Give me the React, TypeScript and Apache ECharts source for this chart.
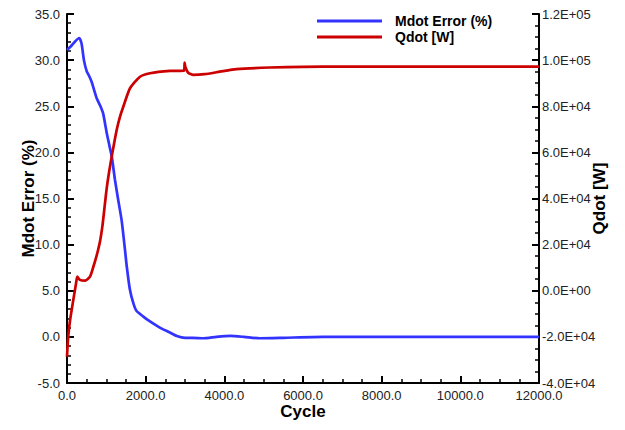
import React, { useEffect, useRef } from "react";
import * as echarts from "echarts";

const cycleTicks = [0, 2000, 4000, 6000, 8000, 10000, 12000];

const mdotCycles = [0, 100, 200, 310, 370, 430, 500, 560, 630, 700, 760, 850, 920, 1010, 1080, 1140, 1220, 1300, 1390, 1475, 1520, 1600, 1690, 1770, 1940, 2100, 2360, 2600, 2790, 3000, 3200, 3465, 3800, 4150, 4500, 4900, 5500, 6500, 8000, 10000, 12000];
const mdotError = [31.1, 31.5, 32.0, 32.4, 31.8, 30.0, 28.8, 28.3, 27.6, 26.6, 25.8, 25.0, 24.2, 22.1, 20.7, 19.5, 17.0, 14.9, 12.6, 9.4, 7.6, 5.1, 3.6, 2.8, 2.2, 1.7, 1.0, 0.5, 0.1, -0.1, -0.1, -0.15, 0.0, 0.1, 0.0, -0.15, -0.1, 0.0, 0.0, 0.0, 0.0];

const qdotCycles = [0, 30, 80, 160, 230, 262, 330, 460, 585, 670, 750, 840, 900, 960, 1010, 1070, 1136, 1263, 1348, 1431, 1602, 1856, 2110, 2619, 2975, 2990, 3010, 3080, 3210, 3500, 3890, 4310, 5160, 6000, 7000, 8000, 10000, 12000];
const qdotW = [-28600, -20000, -12600, -4000, 3200, 6100, 4700, 4400, 6100, 10400, 15000, 21500, 28000, 37000, 44500, 51500, 58100, 69700, 75500, 79800, 87800, 92800, 94300, 95300, 95400, 98900, 97000, 94500, 93600, 93900, 95000, 96100, 96800, 97100, 97200, 97200, 97200, 97200];

const seriesNames = ["Mdot Error (%)", "Qdot [W]"];

function sci(v: number): string {
  if (v === 0) return "0.0E+00";
  const e = Math.floor(Math.log10(Math.abs(v)) + 1e-9);
  const m = v / Math.pow(10, e);
  const ae = Math.abs(e);
  return m.toFixed(1) + "E" + (e < 0 ? "-" : "+") + (ae < 10 ? "0" : "") + ae;
}

export default function App() {
  const ref = useRef<HTMLDivElement>(null);
  useEffect(() => {
    if (!ref.current) return;
    const chart = echarts.init(ref.current, null, { renderer: "svg" });
    const font = "'Liberation Sans', Arial, sans-serif";
    const axisLine = { show: true, onZero: false, lineStyle: { color: "#000", width: 2 } };
    const axisTick = { show: true, inside: true, length: 7, lineStyle: { color: "#000", width: 2 } };
    const minorTickBase = { show: true, length: 4, lineStyle: { color: "#000", width: 1.5 } };
    const labelStyle = { color: "#222", fontSize: 13, fontFamily: font };
    const nameStyle = { color: "#000", fontSize: 17, fontWeight: "bold" as const, fontFamily: font };
    chart.setOption({
      animation: false,
      backgroundColor: "#fff",
      grid: { left: 67, right: 86, top: 14, bottom: 47 },
      legend: {
        orient: "vertical",
        left: 312,
        top: 9,
        itemWidth: 65,
        itemHeight: 3,
        itemGap: 2,
        icon: "rect",
        textStyle: { color: "#000", fontSize: 14, fontWeight: "bold", fontFamily: font, padding: [0, 0, 0, 8] },
        data: seriesNames,
      },
      xAxis: {
        type: "value",
        min: cycleTicks[0],
        max: cycleTicks[cycleTicks.length - 1],
        interval: 2000,
        name: "Cycle",
        nameLocation: "middle",
        nameMoveOverlap: false,
        nameGap: 20,
        nameTextStyle: nameStyle,
        axisLine,
        axisTick,
        minorTick: { ...minorTickBase, splitNumber: 4 },
        splitLine: { show: false },
        axisLabel: { ...labelStyle, margin: 6, formatter: (v: number) => v.toFixed(1) },
      },
      yAxis: [
        {
          type: "value",
          min: -5,
          max: 35,
          interval: 5,
          position: "left",
          name: "Mdot Error (%)",
          nameLocation: "middle",
          nameMoveOverlap: false,
          nameGap: 30,
          nameTextStyle: nameStyle,
          axisLine,
          axisTick,
          minorTick: { ...minorTickBase, splitNumber: 5 },
          splitLine: { show: false },
          axisLabel: { ...labelStyle, margin: 7, formatter: (v: number) => v.toFixed(1) },
        },
        {
          type: "value",
          min: -40000,
          max: 120000,
          interval: 20000,
          position: "right",
          name: "Qdot [W]",
          nameLocation: "middle",
          nameMoveOverlap: false,
          nameGap: 52,
          nameTextStyle: nameStyle,
          axisLine,
          axisTick,
          minorTick: { ...minorTickBase, splitNumber: 4 },
          splitLine: { show: false },
          axisLabel: { ...labelStyle, margin: 3, formatter: (v: number) => sci(v) },
        },
      ],
      series: [
        {
          name: seriesNames[0],
          type: "line",
          yAxisIndex: 0,
          showSymbol: false,
          smooth: 0.2,
          lineStyle: { color: "#3333ff", width: 2.7 },
          itemStyle: { color: "#3333ff" },
          data: mdotCycles.map((c, i) => [c, mdotError[i]]),
        },
        {
          name: seriesNames[1],
          type: "line",
          yAxisIndex: 1,
          showSymbol: false,
          smooth: 0.2,
          lineStyle: { color: "#cc0000", width: 2.7 },
          itemStyle: { color: "#cc0000" },
          data: qdotCycles.map((c, i) => [c, qdotW[i]]),
        },
      ],
    });
    return () => chart.dispose();
  }, []);
  return (
    <div
      ref={ref}
      style={{ position: "fixed", left: 0, top: 0, width: 625, height: 430, background: "#fff" }}
    />
  );
}
